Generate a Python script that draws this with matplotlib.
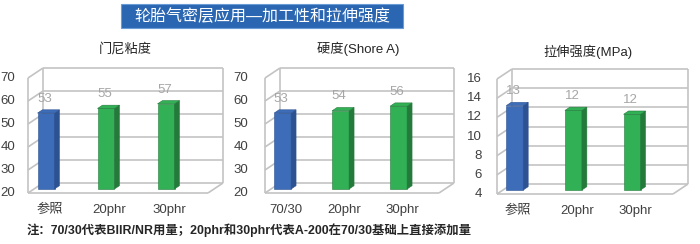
import matplotlib
matplotlib.use("Agg")
import matplotlib.pyplot as plt
from matplotlib.patches import Polygon, Rectangle

plt.rcParams['font.family'] = ['Liberation Sans', 'Noto Sans CJK SC', 'DejaVu Sans']

TITLE = "轮胎气密层应用—加工性和拉伸强度"
NOTE = "注：70/30代表BIIR/NR用量；20phr和30phr代表A-200在70/30基础上直接添加量"

mooney_title = "门尼粘度"
mooney_cats = ["参照", "20phr", "30phr"]
mooney_vals = [53, 55, 57]
mooney_labels = ["53", "55", "57"]
mooney_ticks = [20, 30, 40, 50, 60, 70]

hard_title = "硬度(Shore A)"
hard_cats = ["70/30", "20phr", "30phr"]
hard_vals = [53, 54, 56]
hard_labels = ["53", "54", "56"]
hard_ticks = [20, 30, 40, 50, 60, 70]

tensile_title = "拉伸强度(MPa)"
tensile_cats = ["参照", "20phr", "30phr"]
tensile_vals = [12.8, 12.3, 11.9]
tensile_labels = ["13", "12", "12"]
tensile_ticks = [4, 6, 8, 10, 12, 14, 16]

W, H = 700, 244
FRONT = [("#3d6cb8", "#2c5291"), ("#31b055", "#237a3b"), ("#31b055", "#237a3b")]
GRID = "#c3c3c3"


def px_box(l, r, t, b):
    return [l / W, 1 - b / H, (r - l) / W, (b - t) / H]


def panel(fig, box, title, title_xy, cats, vals, labels, ticks, tick_pad):
    l, r, t, b = box
    ax = fig.add_axes(px_box(l, r, t, b))
    x0, x1 = -0.2, 2.8
    lo, hi = ticks[0], ticks[-1]
    ax.set_xlim(x0, x1)
    ax.set_ylim(lo, hi)
    ax.axis("off")
    pxx = (r - l) / (x1 - x0)
    pxy = (b - t) / (hi - lo)
    ddx, ddy = 15 / pxx, 10 / pxy          # depth of the box
    kw = dict(color=GRID, lw=1.2, solid_capstyle="butt", clip_on=False, zorder=1)

    # walls + floor
    for v in ticks:
        ax.plot([x0 + ddx, x1 + ddx], [v + ddy, v + ddy], **kw)
        ax.plot([x0, x0 + ddx], [v, v + ddy], **kw)
    ax.plot([x0, x0], [lo, hi], **kw)
    ax.plot([x0 + ddx] * 2, [lo + ddy, hi + ddy], **kw)
    ax.plot([x1 + ddx] * 2, [lo + ddy, hi + ddy], **kw)
    ax.plot([x0, x1], [lo, lo], **kw)
    ax.plot([x1, x1 + ddx], [lo, lo + ddy], **kw)

    # bars (front face set 40% into the depth, bar depth ~1/3 of box)
    w = 17 / pxx
    fx, fy = 0.4 * ddx, 0.4 * ddy
    bx, by = 0.33 * ddx, 0.33 * ddy
    for i, (v, lab) in enumerate(zip(vals, labels)):
        fc, sc = FRONT[i]
        xl = i - w / 2 + fx
        xr = xl + w
        y0, y1 = lo + fy, v + fy
        ax.bar(xl + w / 2, y1 - y0, bottom=y0, width=w, color=fc,
               edgecolor=sc, lw=0.4, zorder=3, clip_on=False)
        ax.add_patch(Polygon([(xr, y0), (xr + bx, y0 + by), (xr + bx, y1 + by), (xr, y1)],
                             closed=True, fc=sc, ec=sc, lw=0.4, zorder=3, clip_on=False))
        ax.add_patch(Polygon([(xl, y1), (xr, y1), (xr + bx, y1 + by), (xl + bx, y1 + by)],
                             closed=True, fc=fc, ec=sc, lw=0.4, zorder=3, clip_on=False))
        ax.annotate(lab, (xl + w / 2, y1), xytext=(-1, 6), textcoords="offset points",
                    ha="center", va="bottom", fontsize=9.5, color="#a6a6a6", zorder=4)
        # category labels sit a little below the floor line
        ax.text(i + 0.16, lo - 11 / pxy, cats[i], ha="center", va="top",
                fontsize=9.5, color="#404040")

    for v in ticks:
        ax.annotate(str(v), (x0, v), xytext=(-tick_pad, 0), textcoords="offset points",
                    ha="right", va="center", fontsize=9.5, color="#404040")

    fig.text(title_xy[0] / W, 1 - title_xy[1] / H, title, ha="center", va="center",
             fontsize=9.5, color="#262626")
    return ax


fig = plt.figure(figsize=(W / 100, H / 100), dpi=100)

# title banner
fig.patches.append(Rectangle((121 / W, 1 - 28 / H), 282 / W, 24 / H, transform=fig.transFigure,
                             fc="#2a66b1", ec="#6b9bd6", lw=0.8))
fig.text(262 / W, 1 - 16 / H, TITLE, ha="center", va="center", fontsize=11.5, color="white")

panel(fig, (28, 208, 78, 193), mooney_title, (125, 50), mooney_cats, mooney_vals,
      mooney_labels, mooney_ticks, 9)
panel(fig, (265, 439, 78, 193), hard_title, (358, 49), hard_cats, hard_vals,
      hard_labels, hard_ticks, 12)
panel(fig, (497, 673, 79, 194), tensile_title, (588, 52), tensile_cats, tensile_vals,
      tensile_labels, tensile_ticks, 11)

fig.text(27 / W, 1 - 230 / H, NOTE, ha="left", va="center", fontsize=8.9,
         fontweight="bold", color="#262626")

fig.savefig("out.png", dpi=100)
